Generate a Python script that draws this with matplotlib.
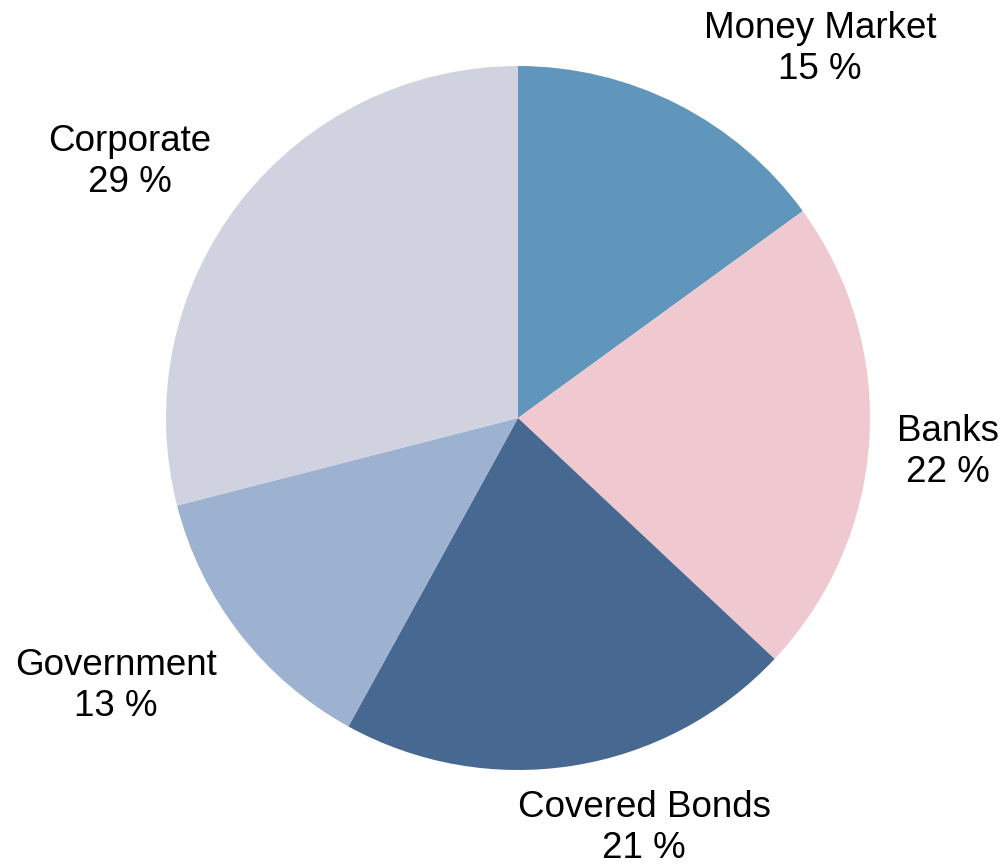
#!/usr/bin/env python3
import matplotlib
matplotlib.use("Agg")
import matplotlib.pyplot as plt

categories = ["Money Market", "Banks", "Covered Bonds", "Government", "Corporate"]
shares = [15, 22, 21, 13, 29]
colors = ["#6096bc", "#f0c8cf", "#476890", "#9db1d1", "#d0d2df"]

# label anchors in units of the pie radius
label_pos = [(0.858, 1.048), (1.222, -0.097), (0.358, -1.165),
             (-1.142, -0.761), (-1.102, 0.727)]


def main():
    plt.rcParams["font.family"] = ["Liberation Sans", "DejaVu Sans"]
    fig = plt.figure(figsize=(10.04, 8.66), dpi=100)
    ax = fig.add_axes([0, 0, 1, 1])

    ax.pie(shares, colors=colors, startangle=90, counterclock=False,
           radius=1, center=(0, 0), wedgeprops=dict(linewidth=0))

    for name, val, (x, y) in zip(categories, shares, label_pos):
        ax.text(x, y, "%s\n%d %%" % (name, val), ha="center", va="center",
                fontsize=26.5, linespacing=1.22, color="black")

    r = 352.0
    ax.set_xlim(-518 / r, (1004 - 518) / r)
    ax.set_ylim(-(866 - 418) / r, 418 / r)
    ax.set_aspect("equal")
    ax.axis("off")
    fig.savefig("out.png", dpi=100, facecolor="white")


if __name__ == "__main__":
    main()
